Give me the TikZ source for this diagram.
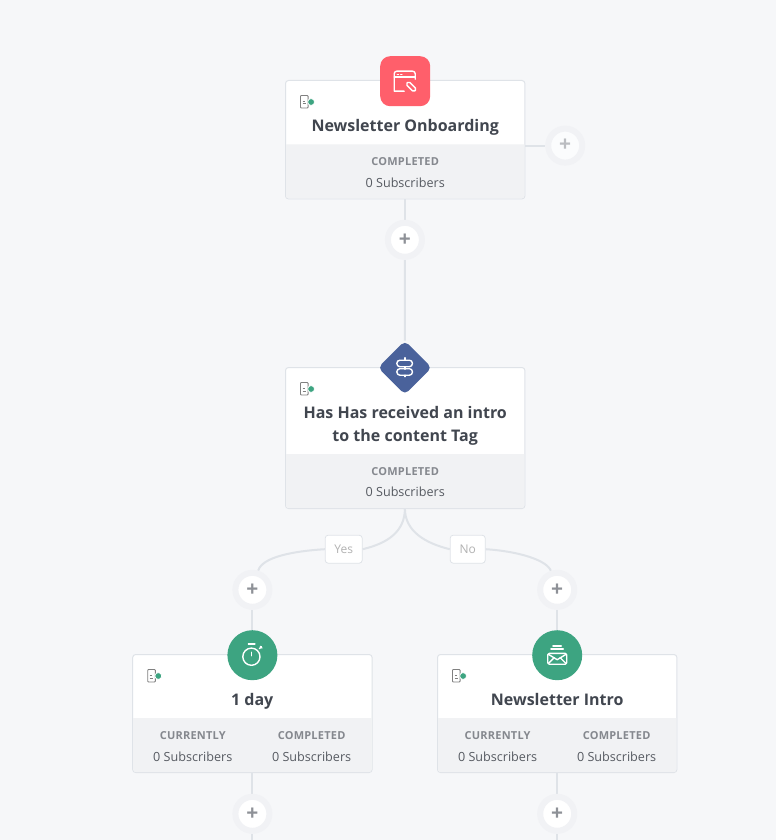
\documentclass[tikz,border=0pt]{standalone}
\usepackage{fontspec}
\setmainfont{Open Sans}
\newfontfamily\capsbold[LetterSpace=2]{Open Sans}
\usetikzlibrary{backgrounds}
\definecolor{pagebg}{HTML}{F6F7F9}
\definecolor{linegray}{HTML}{DFE3E8}
\definecolor{footgray}{HTML}{F1F2F4}
\definecolor{halogray}{HTML}{F1F2F5}
\definecolor{titleink}{HTML}{41464F}
\definecolor{capsink}{HTML}{85888E}
\definecolor{subsink}{HTML}{565A61}
\definecolor{plusink}{HTML}{8E9197}
\definecolor{formred}{HTML}{FF5F6B}
\definecolor{ruleblue}{HTML}{4A629B}
\definecolor{stepgreen}{HTML}{3DA481}
\begin{document}
\begin{tikzpicture}
    [x=1pt, y=-1pt,
    card/.style={rectangle, fill=white, draw=linegray, line width=1pt, rounded corners=3pt, minimum width=239.4pt, outer sep=0pt, inner sep=0pt},
    cardtitle/.style={align=center, anchor=base, text=titleink, inner sep=0pt, font=\bfseries\fontsize{16}{23}\selectfont},
    capslabel/.style={text=capsink, inner sep=0pt, font=\capsbold\bfseries\fontsize{11}{13}\selectfont},
    subslabel/.style={text=subsink, inner sep=0pt, font=\fontsize{12.6}{14}\selectfont},
    addbtn/.style={circle, fill=white, draw=halogray, line width=6pt, minimum size=34pt, inner sep=0pt, text=plusink, font=\bfseries\fontsize{21}{21}\selectfont},
    branchtag/.style={rectangle, fill=white, draw=linegray, line width=.8pt, rounded corners=3pt, minimum height=28pt, inner sep=0pt, text=black!30, font=\fontsize{12}{14}\selectfont},
    wire/.style={draw=linegray, line width=2pt},
    glyph/.style={draw=white, line width=1.4pt, line cap=round, line join=round},
    statusmark/.pic={
        \draw[draw=gray, line width=.9pt, rounded corners=.8pt] (-10.6,-6.5) rectangle (-3,6);
        \draw[draw=gray, line width=1pt] (-8.6,-.5) -- (-6.2,-.5) (-8.6,2) -- (-5,2);
        \fill[stepgreen, draw=white, line width=.7pt] (0,0) circle (3.4);
    }
    ]
    \useasboundingbox (-.2,-.2) rectangle (775.8,839.8);
    \node [card, minimum height=118.4pt] (onboardcard) at (405,139.5) {};
    \node [card, minimum height=141pt] (tagcard) at (405,437.8) {};
    \node [card, minimum height=118pt] (waitcard) at (252.2,713.3) {};
    \node [card, minimum height=118pt] (introcard) at (557,713.3) {};

    \foreach \cardname/\foot in {onboardcard/54, tagcard/54, waitcard/54, introcard/54} {
        \fill [footgray, rounded corners=2.5pt] ([shift={(.5,-.5)}]\cardname.south west) -- ([shift={(-.5,-.5)}]\cardname.south east) [sharp corners] -- ++(0,-\foot) -- ([shift={(.5,-.5-\foot)}]\cardname.south west) [rounded corners=2.5pt] -- cycle;
        \path ([shift={(25.6,21.5)}]\cardname.north west) pic {statusmark};
    }

    \node [cardtitle] (onboardtitle) at (405,131.5) {Newsletter Onboarding};
    \node [capslabel] (onboardcaps) at (405,161) {COMPLETED};
    \node [subslabel] (onboardsubs) at (405,183) {0 Subscribers};

    \node [cardtitle, anchor=center] (tagtitle) at (405,426) {Has Has received an intro\\to the content Tag};
    \node [capslabel] (tagcaps) at (405,471) {COMPLETED};
    \node [subslabel] (tagsubs) at (405,492) {0 Subscribers};

    \node [cardtitle] (waittitle) at (252,705) {1 day};
    \node [capslabel] (waitcaps) at (192.6,735) {CURRENTLY};
    \node [subslabel] (waitsubs) at (192.6,757) {0 Subscribers};
    \node [capslabel] (waitdone) at (311.4,735) {COMPLETED};
    \node [subslabel] (waitdonesubs) at (311.4,757) {0 Subscribers};

    \node [cardtitle] (introtitle) at (557,705) {Newsletter Intro};
    \node [capslabel] (introcaps) at (497.4,735) {CURRENTLY};
    \node [subslabel] (introsubs) at (497.4,757) {0 Subscribers};
    \node [capslabel] (introdone) at (616.4,735) {COMPLETED};
    \node [subslabel] (introdonesubs) at (616.4,757) {0 Subscribers};

    \node [addbtn] (addonboard) at (404.7,239.6) {+};
    \node [addbtn, fill=pagebg!40!white, text=plusink!60] (addside) at (565,145.4) {+};
    \node [addbtn] (addyes) at (252.2,589.6) {+};
    \node [addbtn] (addno) at (557,589.6) {+};
    \node [addbtn] (addwait) at (252.2,813.6) {+};
    \node [addbtn] (addintro) at (557,813.6) {+};

    \node [branchtag, minimum width=37pt] (yestag) at (343.5,549) {Yes};
    \node [branchtag, minimum width=35pt] (notag) at (467.5,549) {No};

    \node [rectangle, fill=formred, rounded corners=10pt, minimum size=50pt, inner sep=0pt] (formbadge) at (405,81) {};
    \node [rectangle, fill=ruleblue, rounded corners=5pt, rotate=45, minimum size=38pt, inner sep=0pt] (rulebadge) at (404.7,367.5) {};
    \node [circle, fill=stepgreen, minimum size=50pt, inner sep=0pt] (waitbadge) at (252.2,655) {};
    \node [circle, fill=stepgreen, minimum size=50pt, inner sep=0pt] (introbadge) at (557,655) {};

    \begin{scope}[shift={(formbadge.center)}]
        \draw [glyph] (-1,10) -- (-11,10) [rounded corners=2.5pt] -- (-11,-10) -- (10,-10) -- (10,-2);
        \draw [glyph] (-11,-4) -- (10,-4);
        \draw [glyph, dotted, line width=1pt] (-8,-7) -- (-2,-7);
        \draw [glyph, rotate around={-45:(6,5.5)}, rounded corners=1.5pt] (.5,3.5) rectangle (11.5,7.5);
    \end{scope}

    \begin{scope}[shift={(rulebadge.center)}]
        \draw [glyph] (0,-10) -- (0,-7.5) (0,-1) -- (0,1.5) (0,7.5) -- (0,9);
        \draw [glyph, rounded corners=3pt] (-8,-7.5) rectangle (7.5,-1);
        \draw [glyph, rounded corners=3pt] (-8,1) rectangle (7.5,7.5);
    \end{scope}

    \begin{scope}[shift={(waitbadge.center)}]
        \draw [glyph] (-1,1.5) circle (8.6);
        \draw [glyph] (-4,-11.2) -- (2.5,-11.2);
        \draw [glyph] (-1,-3) -- (-1,0.5);
        \draw [glyph] (7,-6.5) -- (9,-8.5) (8,-8.8) -- (9.4,-7.2);
    \end{scope}

    \begin{scope}[shift={(introbadge.center)}]
        \draw [glyph, rounded corners=1.5pt] (-9.5,-1.8) rectangle (9.5,9);
        \draw [glyph] (-9,-1) -- (0,4.5) -- (9,-1);
        \draw [glyph] (-9,8.5) -- (-3,2.5) (9,8.5) -- (3,2.5);
        \draw [glyph, line width=2pt] (-6,-5.8) -- (6,-5.8);
        \draw [glyph, line width=2pt] (-4,-9) -- (4,-9);
    \end{scope}

    \coordinate (waitend) at (252.2,840);
    \coordinate (introend) at (557,840);

    \begin{pgfonlayer}{background}
        \fill [pagebg] (-.2,-.2) rectangle (775.8,839.8);
        \path [wire] (onboardcard.south -| addonboard) -- (addonboard);
        \path [wire] (addonboard) -- (rulebadge);
        \path [wire] (onboardcard.east |- addside) -- (addside);
        \path [wire] (tagcard.south -| addonboard) .. controls (404.7,531) and (388,543) .. (yestag.east);
        \path [wire] (yestag.west) .. controls (292,551) and (262,557) .. (addyes);
        \path [wire] (tagcard.south -| addonboard) .. controls (404.7,531) and (425,543) .. (notag.west);
        \path [wire] (notag.east) .. controls (518,551) and (547,560) .. (addno);
        \path [wire] (addyes) -- (waitbadge);
        \path [wire] (addno) -- (introbadge);
        \path [wire] (waitcard) -- (addwait);
        \path [wire] (introcard) -- (addintro);
        \path [wire] (addwait) -- (waitend);
        \path [wire] (addintro) -- (introend);
    \end{pgfonlayer}
\end{tikzpicture}
\end{document}
